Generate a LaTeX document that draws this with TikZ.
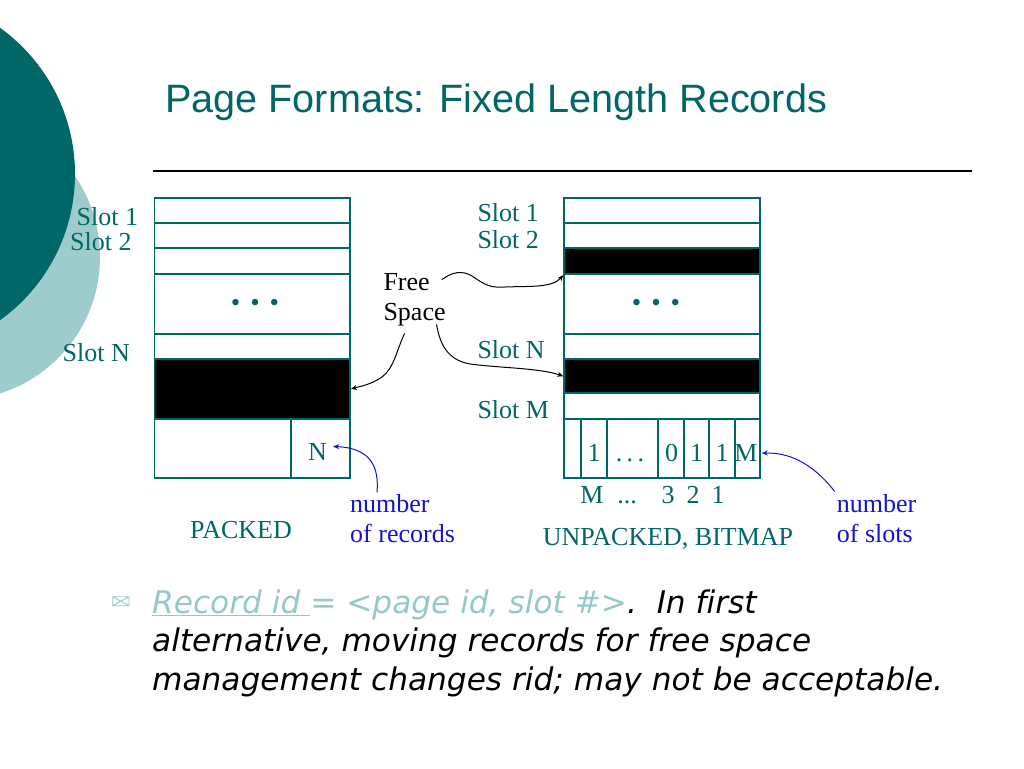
\documentclass[tikz,border=0pt]{standalone}
\usepackage{fontspec}
\setmainfont{Liberation Serif}
\newfontfamily\titlefont{Liberation Sans}
\newfontfamily\bodyfont[Ligatures=NoCommon]{DejaVu Sans}
\usetikzlibrary{arrows.meta}
\definecolor{tealc}{RGB}{0,102,102}
\definecolor{lteal}{RGB}{150,200,200}
\definecolor{darkc}{RGB}{0,102,102}
\definecolor{lightc}{RGB}{158,204,204}
\definecolor{bluec}{RGB}{20,20,205}
\begin{document}
\begin{tikzpicture}[x=1pt,y=-1pt,
  cell/.style={draw=tealc, line width=1.9pt, inner sep=0pt, anchor=north west, fill=white},
  band/.style={cell, fill=black},
  lbl/.style={font=\fontsize{26}{30}\selectfont, text=tealc, inner sep=0pt},
  blk/.style={font=\fontsize{26}{30}\selectfont, text=black, inner sep=0pt},
  blu/.style={font=\fontsize{26}{30}\selectfont, text=bluec, inner sep=0pt},
  dots/.style={font=\fontsize{27}{30}\selectfont, text=tealc, inner sep=0pt},
  body/.style={font=\bodyfont\itshape\fontsize{31.2}{38}\selectfont, inner sep=0pt, anchor=base west},
  arr/.style={-{Stealth[length=6pt,width=5pt]}, line width=1pt, black},
  barr/.style={-{Stealth[length=6pt,width=5pt]}, line width=1pt, bluec}]
\useasboundingbox (0,0) rectangle (1024,768);
\fill[white] (0,0) rectangle (1024,768);
\begin{scope}
\clip (0,0) rectangle (1024,768);
\fill[lightc] (-43,257) circle[radius=143];
\fill[darkc] (-105,174) circle[radius=180];
\end{scope}

% title and rule
\node[font=\titlefont\fontsize{39.6}{48}\selectfont, text=tealc, anchor=base west, inner sep=0pt] (title) at (165,112.7) {Page Formats: Fixed Length Records};
\draw[line width=1.4pt] (153,171) -- (972,171);

% ---- packed page ----
\node[cell, minimum width=195.5pt, minimum height=24.7pt] (L1) at (153.5,197) {};
\node[cell, minimum width=195.5pt, minimum height=25pt] (L2) at (153.5,221.7) {};
\node[cell, minimum width=195.5pt, minimum height=26pt] (L3) at (153.5,246.7) {};
\node[cell, minimum width=195.5pt, minimum height=60pt] (Ld) at (153.5,272.7) {};
\node[cell, minimum width=195.5pt, minimum height=25.6pt] (L4) at (153.5,332.7) {};
\node[band, minimum width=195.5pt, minimum height=59.4pt] (Lf) at (153.5,358.3) {};
\node[cell, minimum width=136.5pt, minimum height=59pt] (Lb) at (153.5,417.7) {};
\node[cell, minimum width=59pt, minimum height=59pt] (Ln) at (290,417.7) {};
\node[dots] (ldots) at (255,305.7) {•\hspace{10pt}•\hspace{10pt}•};
\node[lbl, anchor=base] (N) at (317.5,460) {N};

\node[lbl, anchor=base east] (ls1) at (138.3,225) {Slot 1};
\node[lbl, anchor=base east] (ls2) at (131.7,250) {Slot 2};
\node[lbl, anchor=base east] (lsn) at (130,361.7) {Slot N};
\node[lbl, anchor=base] (packed) at (241,538.3) {PACKED};
\node[blu, anchor=base west] (nr1) at (350,512.7) {number};
\node[blu, anchor=base west] (nr2) at (350,542.7) {of records};

% ---- unpacked page ----
\node[cell, minimum width=195.7pt, minimum height=24.7pt] (R1) at (563.3,197) {};
\node[cell, minimum width=195.7pt, minimum height=25pt] (R2) at (563.3,221.7) {};
\node[band, minimum width=195.7pt, minimum height=26.6pt] (Rf1) at (563.3,246.7) {};
\node[cell, minimum width=195.7pt, minimum height=59.4pt] (Rd) at (563.3,273.3) {};
\node[cell, minimum width=195.7pt, minimum height=25.6pt] (R3) at (563.3,332.7) {};
\node[band, minimum width=195.7pt, minimum height=34pt] (Rf2) at (563.3,358.3) {};
\node[cell, minimum width=195.7pt, minimum height=25.4pt] (R4) at (563.3,392.3) {};
\node[cell, minimum width=16.7pt, minimum height=59pt] (B0) at (563.3,417.7) {};
\node[cell, minimum width=25.7pt, minimum height=59pt] (B1) at (580,417.7) {};
\node[cell, minimum width=51.6pt, minimum height=59pt] (B2) at (605.7,417.7) {};
\node[cell, minimum width=25.4pt, minimum height=59pt] (B3) at (657.3,417.7) {};
\node[cell, minimum width=25.6pt, minimum height=59pt] (B4) at (682.7,417.7) {};
\node[cell, minimum width=25.7pt, minimum height=59pt] (B5) at (708.3,417.7) {};
\node[cell, minimum width=25pt, minimum height=59pt] (B6) at (734,417.7) {};
\node[dots] (rdots) at (656,305.7) {•\hspace{10pt}•\hspace{10pt}•};

\node[lbl, anchor=base] (b1) at (594,461.7) {1};
\node[lbl, anchor=base] (b2) at (630,461.7) {.\,.\,.};
\node[lbl, anchor=base] (b3) at (671.5,461.7) {0};
\node[lbl, anchor=base] (b4) at (696.5,461.7) {1};
\node[lbl, anchor=base] (b5) at (722,461.7) {1};
\node[lbl, anchor=base] (bM) at (746,461.7) {M};

\node[lbl, anchor=base] (c1) at (592,503.3) {M};
\node[lbl, anchor=base] (c2) at (627,503.3) {...};
\node[lbl, anchor=base] (c3) at (668,503.3) {3};
\node[lbl, anchor=base] (c4) at (693,503.3) {2};
\node[lbl, anchor=base] (c5) at (718,503.3) {1};

\node[lbl, anchor=base west] (rs1) at (477.3,221.7) {Slot 1};
\node[lbl, anchor=base west] (rs2) at (477.3,248.3) {Slot 2};
\node[lbl, anchor=base west] (rsn) at (477.3,358.3) {Slot N};
\node[lbl, anchor=base west] (rsm) at (477.3,418.3) {Slot M};
\node[lbl, anchor=base] (unpacked) at (668,545) {UNPACKED, BITMAP};
\node[blu, anchor=base west] (ns1) at (836.7,512.7) {number};
\node[blu, anchor=base west] (ns2) at (836.7,542.7) {of slots};

% ---- free space ----
\node[blk, anchor=base west] (free) at (383.3,290) {Free};
\node[blk, anchor=base west] (space) at (383.3,320.7) {Space};

\draw[arr] ([shift={(12,-2)}]free.east) .. controls (452,272) and (462,270) .. (472,276)
   .. controls (485,285) and (490,288) .. (505,287)
   .. controls (530,286) and (552,288) .. (Rf1.south west);
\draw[arr] ([shift={(-10,7)}]space.south) .. controls (396,352) and (394,368) .. (382,377)
   .. controls (372,384) and (362,386) .. (Lf.east);
\draw[arr] ([shift={(22,-2)}]space.south) .. controls (440,345) and (448,360) .. (470,364)
   .. controls (500,368) and (540,368) .. (Rf2.west);

\draw[barr] ([shift={(27,-2)}]nr1.north west) .. controls (379,468) and (372,448) .. ([shift={(6,-5)}]N.east);
\draw[barr] ([shift={(-2,-3)}]ns1.north west) .. controls (818,470) and (795,452) .. ([shift={(4,0)}]bM.east);

% ---- bullet text ----
\draw[lteal, line width=0.9pt] (112.7,596.7) rectangle (129,605.7)
  (112.7,596.7) -- (120.85,601.2) -- (129,596.7)
  (112.7,605.7) -- (120.85,601.2) -- (129,605.7);
\node[body] (t1) at (152,613.3) {{\color{lteal}\underline{Record id\ }= <page id, slot \#>}.\ \ In first};
\node[body] (t2) at (152,651.7) {alternative, moving records for free space};
\node[body] (t3) at (152,690) {management changes rid; may not be acceptable.};
\end{tikzpicture}
\end{document}
